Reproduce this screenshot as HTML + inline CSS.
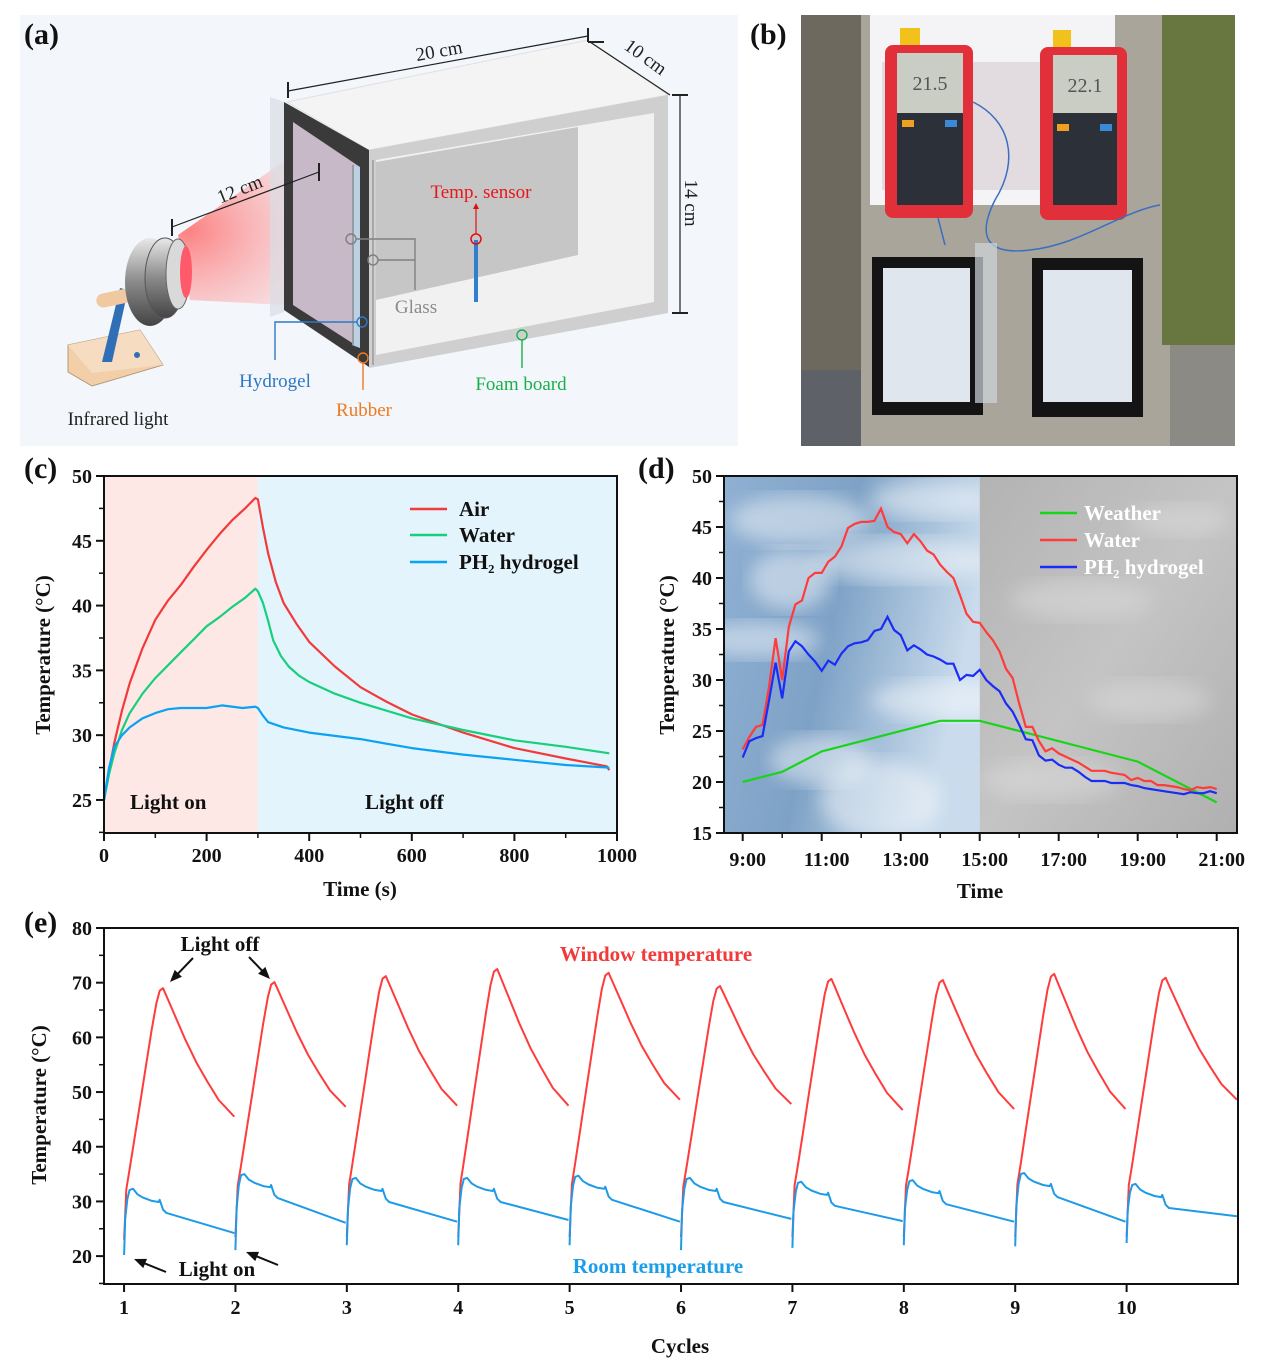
<!DOCTYPE html>
<html><head><meta charset="utf-8"><style>
html,body{margin:0;padding:0;background:#fff}
svg{display:block}
text{font-family:"Liberation Serif",serif}
.tk{font-size:20px;font-weight:bold;fill:#111}
.tt{font-size:21px;font-weight:bold;fill:#111}
.pl{font-size:30px;font-weight:bold;fill:#111}
</style></head><body>
<svg id="fig" width="1268" height="1369" viewBox="0 0 1268 1369" xmlns="http://www.w3.org/2000/svg">
<defs>
<radialGradient id="beam" cx="0.05" cy="0.5" r="0.95">
<stop offset="0" stop-color="#ff5a5a" stop-opacity="0.75"/>
<stop offset="0.6" stop-color="#ff9a9a" stop-opacity="0.35"/>
<stop offset="1" stop-color="#ffd0d0" stop-opacity="0"/>
</radialGradient>
<linearGradient id="lampg" x1="0" y1="0" x2="0" y2="1">
<stop offset="0" stop-color="#e8e8e8"/><stop offset="0.5" stop-color="#8a8a8a"/><stop offset="1" stop-color="#444"/>
</linearGradient>
<linearGradient id="sky" x1="0" y1="0" x2="1" y2="0.3">
<stop offset="0" stop-color="#8fb0d2"/><stop offset="0.5" stop-color="#7ea2c6"/><stop offset="1" stop-color="#c9dbec"/>
</linearGradient>
<linearGradient id="grey" x1="0" y1="0" x2="1" y2="1">
<stop offset="0" stop-color="#b3b3b3"/><stop offset="0.5" stop-color="#c4c4c4"/><stop offset="1" stop-color="#b0b0b0"/>
</linearGradient>
<filter id="blur"><feGaussianBlur stdDeviation="9"/></filter>
<clipPath id="dclip"><rect x="724" y="476" width="513" height="357"/></clipPath>
</defs>

<!-- ===== Panel (a) ===== -->
<g>
<rect x="20" y="15" width="718" height="431" fill="#f3f6fa"/>
<text class="pl" x="24" y="44">(a)</text>
<polygon points="287,102 588,40 668,95 369,150" fill="#f4f4f4" stroke="#e0e0e0"/>
<polygon points="369,150 668,95 668,313 369,368" fill="#cfcfcf"/>
<polygon points="376,160 654,113 654,302 376,355" fill="#f1f1f1"/>
<polygon points="376,162 578,127 578,255 376,300" fill="#c6c6c6"/>
<polygon points="178,235 300,150 380,310 190,300" fill="url(#beam)"/>
<polygon points="270,97 284,102 284,312 270,317" fill="#d8dde4" opacity="0.7"/>
<polygon points="284,102 369,150 369,367 284,310" fill="#3a3a3a"/>
<polygon points="293,122 360,167 360,348 293,305" fill="#c7b9c8"/>
<polygon points="352,165 360,167 360,348 352,345" fill="#bcd0e4"/>
<line x1="353" y1="165" x2="353" y2="345" stroke="#8a8a8a" stroke-width="1.5"/>
<line x1="373" y1="160" x2="373" y2="365" stroke="#9a9a9a" stroke-width="1.5"/>
<polygon points="68,345 140,330 163,365 92,386 68,372" fill="#f2cfa8" stroke="#b79878"/>
<polygon points="68,345 140,330 163,365 92,373" fill="#f6dcc0"/>
<circle cx="137" cy="355" r="3" fill="#2f6fb6"/>
<polygon points="102,362 112,362 128,290 120,288" fill="#2f6fb6"/>
<rect x="96" y="290" width="48" height="14" rx="7" fill="#f0c9a0" transform="rotate(-12 120 297)"/>
<ellipse cx="150" cy="282" rx="25" ry="44" fill="url(#lampg)"/>
<ellipse cx="165" cy="278" rx="20" ry="40" fill="url(#lampg)" stroke="#555" stroke-width="1"/>
<ellipse cx="178" cy="274" rx="12" ry="35" fill="#d9d9d9" stroke="#666"/>
<ellipse cx="186" cy="272" rx="6" ry="26" fill="#ff5a6a"/>
<g stroke="#222" stroke-width="1.2" fill="none">
<line x1="172" y1="227" x2="319" y2="172"/><line x1="172" y1="219" x2="172" y2="236" stroke-width="2"/><line x1="319" y1="163" x2="319" y2="181" stroke-width="2"/>
<line x1="288" y1="91" x2="588" y2="36"/><line x1="288" y1="82" x2="288" y2="98" stroke-width="2"/><line x1="588" y1="28" x2="588" y2="42" stroke-width="2"/>
<line x1="590" y1="42" x2="670" y2="95"/><line x1="588" y1="42" x2="604" y2="42" stroke-width="2"/>
<line x1="680" y1="95" x2="680" y2="313"/><line x1="672" y1="95" x2="688" y2="95" stroke-width="2"/><line x1="672" y1="313" x2="688" y2="313" stroke-width="2"/>
</g>
<text x="242" y="195" font-size="19" fill="#222" transform="rotate(-22 242 195)" text-anchor="middle">12 cm</text>
<text x="440" y="57" font-size="19" fill="#222" transform="rotate(-10 440 57)" text-anchor="middle">20 cm</text>
<text x="642" y="62" font-size="19" fill="#222" transform="rotate(36 642 62)" text-anchor="middle">10 cm</text>
<text x="685" y="203" font-size="19" fill="#222" transform="rotate(90 685 203)" text-anchor="middle">14 cm</text>
<line x1="476" y1="240" x2="476" y2="302" stroke="#2f7fd0" stroke-width="4"/>
<circle cx="476" cy="239" r="5" fill="none" stroke="#e01010" stroke-width="1.5"/>
<line x1="476" y1="234" x2="476" y2="207" stroke="#e01010" stroke-width="1.2"/>
<polygon points="473,209 479,209 476,203" fill="#e01010"/>
<text x="481" y="198" font-size="19" fill="#e8161b" text-anchor="middle">Temp. sensor</text>
<g stroke="#808080" stroke-width="1.4" fill="none">
<circle cx="351" cy="239" r="5"/><circle cx="373" cy="260" r="5"/>
<polyline points="356,239 415,239 415,290"/><line x1="378" y1="260" x2="415" y2="260"/>
</g>
<text x="416" y="313" font-size="19" fill="#8a8a8a" text-anchor="middle">Glass</text>
<g stroke="#2f78c4" stroke-width="1.4" fill="none"><circle cx="362" cy="322" r="5"/><polyline points="357,322 275,322 275,360"/></g>
<text x="275" y="387" font-size="19" fill="#2f78c4" text-anchor="middle">Hydrogel</text>
<g stroke="#ee7a20" stroke-width="1.4" fill="none"><circle cx="363" cy="358" r="5"/><line x1="363" y1="363" x2="363" y2="390"/></g>
<text x="364" y="416" font-size="19" fill="#ee7a20" text-anchor="middle">Rubber</text>
<g stroke="#18b04a" stroke-width="1.4" fill="none"><circle cx="522" cy="335" r="5"/><line x1="522" y1="340" x2="522" y2="368"/></g>
<text x="521" y="390" font-size="19" fill="#18b04a" text-anchor="middle">Foam board</text>
<text x="118" y="425" font-size="19" fill="#222" text-anchor="middle">Infrared light</text>
</g>

<!-- ===== Panel (b) ===== -->
<g>
<rect x="801" y="15" width="434" height="431" fill="#aaa59b"/>
<rect x="801" y="15" width="60" height="431" fill="#6e695f"/>
<rect x="801" y="370" width="60" height="76" fill="#5e6168"/>
<rect x="1162" y="15" width="73" height="330" fill="#67773f"/>
<rect x="1170" y="345" width="65" height="101" fill="#8c8a84"/>
<rect x="870" y="15" width="245" height="190" fill="#f4f4f6"/>
<rect x="882" y="62" width="205" height="128" fill="#e2dbe0"/>
<rect x="900" y="28" width="20" height="20" fill="#f2c21c"/>
<rect x="1053" y="30" width="18" height="18" fill="#f2c21c"/>
<rect x="885" y="45" width="88" height="173" rx="8" fill="#e2303a"/>
<rect x="897" y="53" width="66" height="60" fill="#c9cdc4"/>
<rect x="897" y="113" width="66" height="92" fill="#2c3038"/>
<text x="930" y="90" font-size="20" fill="#555" text-anchor="middle" font-family="Liberation Sans">21.5</text>
<rect x="1040" y="47" width="87" height="173" rx="8" fill="#e2303a"/>
<rect x="1053" y="55" width="64" height="58" fill="#c9cdc4"/>
<rect x="1053" y="113" width="64" height="92" fill="#2c3038"/>
<text x="1085" y="92" font-size="20" fill="#555" text-anchor="middle" font-family="Liberation Sans">22.1</text>
<rect x="902" y="120" width="12" height="7" fill="#f0a020"/><rect x="945" y="120" width="12" height="7" fill="#3a8ad8"/>
<rect x="1057" y="124" width="12" height="7" fill="#f0a020"/><rect x="1100" y="124" width="12" height="7" fill="#3a8ad8"/>
<path d="M973,102 C1010,120 1020,160 995,200 C975,240 990,255 1030,250 C1080,245 1120,212 1160,205" stroke="#3a6fc0" fill="none" stroke-width="1.5"/>
<path d="M938,218 L945,245" stroke="#3a6fc0" stroke-width="1.5"/>
<rect x="872" y="257" width="111" height="158" fill="#141414"/>
<rect x="883" y="268" width="87" height="134" fill="#dfe6ee"/>
<rect x="975" y="243" width="22" height="160" fill="#cfd5dc" opacity="0.7"/>
<rect x="1032" y="258" width="111" height="159" fill="#141414"/>
<rect x="1043" y="270" width="89" height="132" fill="#dfe6ee"/>
</g>

<text class="pl" x="750" y="44">(b)</text>
<text class="pl" x="24" y="478">(c)</text>
<text class="pl" x="638" y="478">(d)</text>
<text class="pl" x="24" y="932">(e)</text>

<g id="pc"></g>
<g id="pd"></g>
<g id="pe"></g>
</svg>
<script>
// ---- Panel (c) data ----
var cTime = [0,10,20,35,50,75,100,125,150,175,200,225,250,275,295,300,310,320,335,350,375,400,450,500,550,600,650,700,800,900,980,985];
var cAir  = [25,27.3,29.4,31.9,34.0,36.7,38.9,40.4,41.6,43.0,44.3,45.5,46.6,47.5,48.3,48.2,46.0,44.0,41.8,40.2,38.6,37.2,35.3,33.7,32.6,31.6,30.9,30.2,29.0,28.2,27.6,27.3];
var cWaterT = [0,10,20,35,50,75,100,125,150,175,200,225,250,275,295,300,310,320,330,345,360,380,400,450,500,600,700,800,900,985];
var cWater  = [25,27.0,28.6,30.4,31.7,33.2,34.4,35.4,36.4,37.4,38.4,39.1,39.9,40.6,41.3,41.1,40.2,38.8,37.3,36.1,35.3,34.6,34.1,33.2,32.5,31.3,30.4,29.6,29.1,28.6];
var cGelT = [0,10,20,35,50,75,100,125,150,200,230,270,295,300,310,320,335,350,400,500,600,700,800,900,985];
var cGel  = [25,27.5,29.1,30.0,30.6,31.3,31.7,32.0,32.1,32.1,32.3,32.1,32.2,32.1,31.5,31.0,30.8,30.6,30.2,29.7,29.0,28.5,28.1,27.7,27.5];
var cXTicks = [0,200,400,600,800,1000];
var cYTicks = [25,30,35,40,45,50];
// ---- Panel (d) data (10-min samples, 9:00 -> 21:00) ----
var dWeatherH = [9,10,11,14,15,19,21];
var dWeather  = [20,21,23,26,26,22,18];
var dWater = [23.2,24.4,25.4,25.6,29.3,34.1,30.0,35.2,37.4,37.8,40.0,40.5,40.5,41.6,42.1,43.1,44.9,45.3,45.5,45.5,45.6,46.8,45.0,44.5,44.3,43.4,44.3,43.6,42.7,42.3,41.3,40.6,40.0,38.3,36.5,35.7,35.6,34.7,33.9,32.8,31.1,30.2,27.7,25.4,25.4,24.0,23.0,23.3,22.8,22.5,22.2,21.9,21.5,21.1,21.1,21.1,20.9,20.8,20.7,20.2,20.4,20.1,20.1,19.7,19.7,19.6,19.5,19.3,19.2,19.5,19.4,19.5,19.3];
var dGel = [22.4,24.0,24.3,24.5,28.0,31.7,28.2,32.8,33.8,33.3,32.5,31.8,30.9,31.9,31.5,32.6,33.3,33.6,33.7,33.9,34.8,35.0,36.2,34.9,34.4,32.9,33.4,33.0,32.5,32.3,32.0,31.6,31.6,30.0,30.5,30.4,31.0,30.0,29.4,28.9,27.7,26.9,25.6,24.2,24.1,22.6,22.1,22.2,21.7,21.4,21.4,21.0,20.5,20.1,20.1,20.1,19.9,19.9,19.9,19.7,19.6,19.4,19.3,19.2,19.1,19.0,18.9,18.8,19.0,18.9,18.9,19.1,18.9];
var dXTicks = ["9:00","11:00","13:00","15:00","17:00","19:00","21:00"];
var dXTickH = [9,11,13,15,17,19,21];
var dYTicks = [15,20,25,30,35,40,45,50];
// ---- Panel (e) data (per cycle) ----
var eCycles    = [1,2,3,4,5,6,7,8,9,10];
var eRedStart  = [23,23.5,23.5,23.5,23.5,23.5,23.5,23.5,23.5,23.5];
var eRedPeak   = [69.0,70.1,71.2,72.5,71.8,69.4,70.7,70.5,71.6,70.9];
var eRedEnd    = [45.5,47.3,47.5,47.5,48.6,47.8,46.7,46.9,46.9,48.6];
var eBlueStart = [20.2,21.1,22.0,22.0,22.0,21.1,21.5,22.0,21.8,22.4];
var eBluePeak  = [32.3,35.0,34.3,34.3,34.7,34.3,33.6,33.9,35.2,33.2];
var eBlueEnd   = [24.2,26.1,26.3,26.6,26.3,26.8,26.4,26.3,26.3,27.3];
var eYTicks = [20,30,40,50,60,70,80];

var NS="http://www.w3.org/2000/svg";
function mk(parent,tag,attrs){var e=document.createElementNS(NS,tag);for(var k in attrs)e.setAttribute(k,attrs[k]);parent.appendChild(e);return e;}
function lin(d0,d1,r0,r1){return function(v){return r0+(v-d0)*(r1-r0)/(d1-d0);};}
function pathD(xs,ys){var s="";for(var i=0;i<xs.length;i++)s+=(i?"L":"M")+xs[i].toFixed(1)+","+ys[i].toFixed(1);return s;}

// ===== Panel C =====
(function(){
var g=document.getElementById('pc');
var X=lin(0,1000,104,617),Y=lin(22.45,50,833,476);
var r=mk(g,'rect',{x:104,y:476,width:X(300)-104,height:357,fill:'#fde8e6'});

r=mk(g,'rect',{x:X(300),y:476,width:617-X(300),height:357,fill:'#e3f4fc'});

var series=[[cTime,cAir,'#f23a3a','air-line'],[cWaterT,cWater,'#17cf7c','water-line'],[cGelT,cGel,'#0aa2f3','ph2-hydrogel-line']];
series.forEach(function(s){
 var p=mk(g,'path',{d:pathD(s[0].map(X),s[1].map(Y)),fill:'none',stroke:s[2],'stroke-width':2.2,'stroke-linejoin':'round'});
 
});
mk(g,'rect',{x:104,y:476,width:513,height:357,fill:'none',stroke:'#111','stroke-width':2});
cXTicks.forEach(function(v){
 mk(g,'line',{x1:X(v),y1:833,x2:X(v),y2:841,stroke:'#111','stroke-width':2});
 if(v<1000)mk(g,'line',{x1:X(v+100),y1:833,x2:X(v+100),y2:838,stroke:'#111','stroke-width':1.5});
 var t=mk(g,'text',{x:X(v),y:862,'text-anchor':'middle','class':'tk'});t.textContent=v;
 
});
cYTicks.forEach(function(v){
 mk(g,'line',{x1:96,y1:Y(v),x2:104,y2:Y(v),stroke:'#111','stroke-width':2});
 mk(g,'line',{x1:99,y1:Y(v-2.5),x2:104,y2:Y(v-2.5),stroke:'#111','stroke-width':1.5});
 var t=mk(g,'text',{x:92,y:Y(v)+7,'text-anchor':'end','class':'tk'});t.textContent=v;
 
});
var t=mk(g,'text',{x:360,y:896,'text-anchor':'middle','class':'tt'});t.textContent='Time (s)';

t=mk(g,'text',{x:50,y:655,'text-anchor':'middle','class':'tt',transform:'rotate(-90 50 655)'});t.textContent='Temperature (\u00B0C)';

t=mk(g,'text',{x:130,y:809,'class':'tt'});t.textContent='Light on';

t=mk(g,'text',{x:365,y:809,'class':'tt'});t.textContent='Light off';

var leg=[['Air','#f23a3a',509],['Water','#17cf7c',535],['PH\u2082 hydrogel','#0aa2f3',562]];
leg.forEach(function(l){
 var ln=mk(g,'line',{x1:410,y1:l[2],x2:447,y2:l[2],stroke:l[1],'stroke-width':2.5});
 
 var tx=mk(g,'text',{x:459,y:l[2]+7,'class':'tt'});tx.textContent=l[0];
 
});
})();

// ===== Panel D =====
(function(){
var g=document.getElementById('pd');
var X=lin(9,21,742.7,1216.7),Y=lin(15,50,833,476);
var bg=mk(g,'g',{'clip-path':'url(#dclip)'});
mk(bg,'rect',{x:724,y:476,width:X(15)-724,height:357,fill:'url(#sky)'});
[[800,520,70,25],[900,560,90,22],[760,640,60,18],[950,700,80,20],[880,800,60,40],[820,760,50,25],[930,500,60,18],[790,580,40,30]].forEach(function(c){
 mk(bg,'ellipse',{cx:c[0],cy:c[1],rx:c[2],ry:c[3],fill:'#ffffff',opacity:0.45,filter:'url(#blur)'});
});
mk(bg,'rect',{x:X(15),y:476,width:1237-X(15),height:357,fill:'url(#grey)'});
[[1080,600,70,20],[1150,700,60,20],[1050,780,70,20],[1180,520,50,16]].forEach(function(c){
 mk(bg,'ellipse',{cx:c[0],cy:c[1],rx:c[2],ry:c[3],fill:'#dcdcdc',opacity:0.5,filter:'url(#blur)'});
});
var hw=dWater.map(function(v,i){return 9+i*12/(dWater.length-1);});
var hg=dGel.map(function(v,i){return 9+i*12/(dGel.length-1);});
var p=mk(g,'path',{d:pathD(dWeatherH.map(X),dWeather.map(Y)),fill:'none',stroke:'#19d419','stroke-width':2.2});

p=mk(g,'path',{d:pathD(hw.map(X),dWater.map(Y)),fill:'none',stroke:'#ff3b3b','stroke-width':2.2});

p=mk(g,'path',{d:pathD(hg.map(X),dGel.map(Y)),fill:'none',stroke:'#1a2cf5','stroke-width':2.2});

mk(g,'rect',{x:724,y:476,width:513,height:357,fill:'none',stroke:'#111','stroke-width':2});
dXTickH.forEach(function(h,i){
 mk(g,'line',{x1:X(h),y1:833,x2:X(h),y2:841,stroke:'#111','stroke-width':2});
 if(h<21)mk(g,'line',{x1:X(h+1),y1:833,x2:X(h+1),y2:838,stroke:'#111','stroke-width':1.5});
 var t=mk(g,'text',{x:X(h)+5,y:866,'text-anchor':'middle','class':'tk'});t.textContent=dXTicks[i];
 
});
dYTicks.forEach(function(v){
 mk(g,'line',{x1:716,y1:Y(v),x2:724,y2:Y(v),stroke:'#111','stroke-width':2});
 if(v>15)mk(g,'line',{x1:719,y1:Y(v-2.5),x2:724,y2:Y(v-2.5),stroke:'#111','stroke-width':1.5});
 var t=mk(g,'text',{x:712,y:Y(v)+7,'text-anchor':'end','class':'tk'});t.textContent=v;
 
});
var t=mk(g,'text',{x:980,y:898,'text-anchor':'middle','class':'tt'});t.textContent='Time';

t=mk(g,'text',{x:674,y:655,'text-anchor':'middle','class':'tt',transform:'rotate(-90 674 655)'});t.textContent='Temperature (\u00B0C)';

var leg=[['Weather','#19d419',513],['Water','#ff3b3b',540],['PH\u2082 hydrogel','#1a2cf5',567]];
leg.forEach(function(l){
 var ln=mk(g,'line',{x1:1040,y1:l[2],x2:1077,y2:l[2],stroke:l[1],'stroke-width':2.5});
 
 var tx=mk(g,'text',{x:1084,y:l[2]+7,'class':'tt',style:'fill:#fff'});tx.textContent=l[0];
 
});
})();

// ===== Panel E =====
(function(){
var g=document.getElementById('pe');
var X=lin(0.82,11.0,104,1238),Y=lin(14.9,80,1284,928);
eCycles.forEach(function(c,i){
 var s=eRedStart[i],pk=eRedPeak[i],en=eRedEnd[i];
 var fr=[0,0.02,0.05,0.1,0.15,0.2,0.25,0.29,0.32,0.35,0.38,0.45,0.55,0.65,0.75,0.85,0.99];
 var rv=[s,s+0.2*(pk-s),s+0.28*(pk-s),s+0.42*(pk-s),s+0.56*(pk-s),s+0.7*(pk-s),s+0.84*(pk-s),s+0.94*(pk-s),s+0.99*(pk-s),pk,pk-0.06*(pk-en),en+0.8*(pk-en),en+0.6*(pk-en),en+0.42*(pk-en),en+0.27*(pk-en),en+0.13*(pk-en),en];
 var p=mk(g,'path',{d:pathD(fr.map(function(f){return X(c+f);}),rv.map(Y)),fill:'none',stroke:'#ff3b3b','stroke-width':2,'stroke-linejoin':'round'});
 
 var bs=eBlueStart[i],bp=eBluePeak[i],be=eBlueEnd[i];
 var fb=[0,0.01,0.03,0.05,0.08,0.12,0.17,0.25,0.31,0.32,0.35,0.38,0.99];
 var bv=[bs,bs+0.55*(bp-bs),bs+0.85*(bp-bs),bp-0.2,bp,bp-1.0,bp-1.6,bp-2.2,bp-2.4,bp-2.0,bp-3.8,bp-4.4,be];
 p=mk(g,'path',{d:pathD(fb.map(function(f){return X(c+f);}),bv.map(Y)),fill:'none',stroke:'#1e9be8','stroke-width':2,'stroke-linejoin':'round'});
 
});
mk(g,'rect',{x:104,y:928,width:1134,height:356,fill:'none',stroke:'#111','stroke-width':2});
eCycles.forEach(function(c){
 mk(g,'line',{x1:X(c),y1:1284,x2:X(c),y2:1292,stroke:'#111','stroke-width':2});
 var t=mk(g,'text',{x:X(c),y:1314,'text-anchor':'middle','class':'tk'});t.textContent=c;
 
});
eYTicks.forEach(function(v){
 mk(g,'line',{x1:96,y1:Y(v),x2:104,y2:Y(v),stroke:'#111','stroke-width':2});
 mk(g,'line',{x1:99,y1:Y(v-5),x2:104,y2:Y(v-5),stroke:'#111','stroke-width':1.5});
 var t=mk(g,'text',{x:92,y:Y(v)+7,'text-anchor':'end','class':'tk'});t.textContent=v;
 
});
var t=mk(g,'text',{x:680,y:1353,'text-anchor':'middle','class':'tt'});t.textContent='Cycles';

t=mk(g,'text',{x:46,y:1105,'text-anchor':'middle','class':'tt',transform:'rotate(-90 46 1105)'});t.textContent='Temperature (\u00B0C)';

t=mk(g,'text',{x:656,y:961,'text-anchor':'middle','class':'tt',style:'fill:#f23a3a'});t.textContent='Window temperature';

t=mk(g,'text',{x:658,y:1273,'text-anchor':'middle','class':'tt',style:'fill:#1a9ee8'});t.textContent='Room temperature';

t=mk(g,'text',{x:220,y:951,'text-anchor':'middle','class':'tt'});t.textContent='Light off';

t=mk(g,'text',{x:217,y:1276,'text-anchor':'middle','class':'tt'});t.textContent='Light on';

var arrows=[[193,958,170,982],[249,957,270,979],[166,1272,134,1259],[278,1265,246,1252]];
arrows.forEach(function(a){
 var dx=a[2]-a[0],dy=a[3]-a[1],L=Math.sqrt(dx*dx+dy*dy),ux=dx/L,uy=dy/L;
 var ln=mk(g,'line',{x1:a[0],y1:a[1],x2:a[2]-ux*8,y2:a[3]-uy*8,stroke:'#111','stroke-width':2});
 
 var bx=a[2]-ux*12,by=a[3]-uy*12;
 mk(g,'polygon',{points:a[2]+','+a[3]+' '+(bx-uy*5)+','+(by+ux*5)+' '+(bx+uy*5)+','+(by-ux*5),fill:'#111'});
});
})();
</script>
</body></html>
